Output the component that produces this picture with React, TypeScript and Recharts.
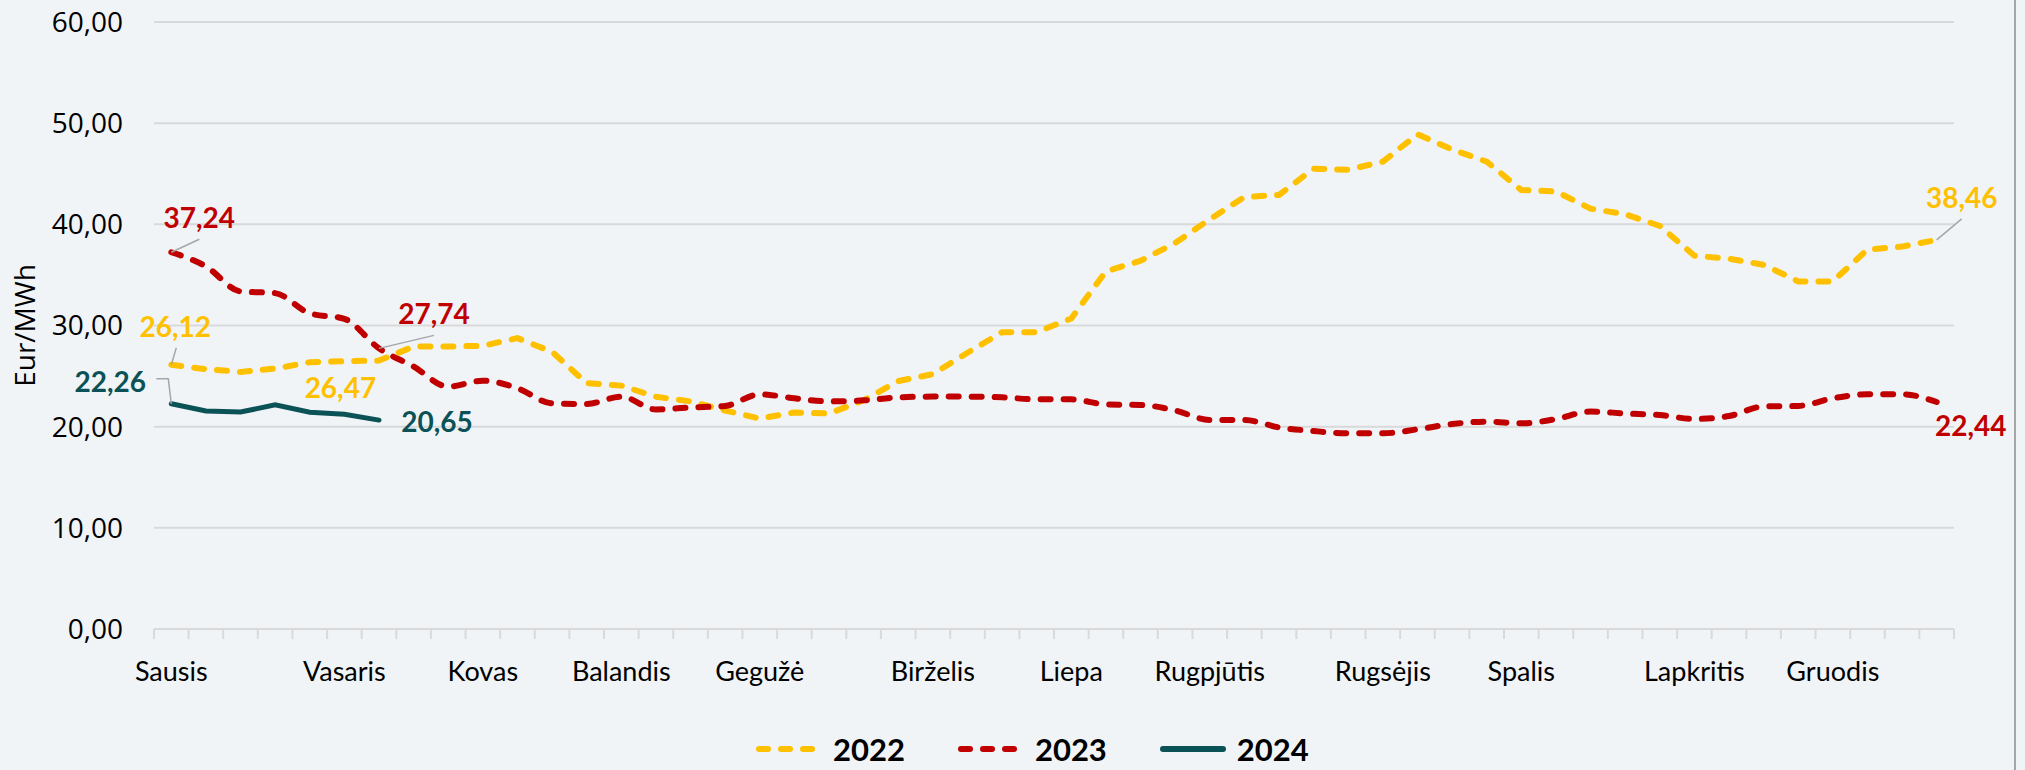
import React from "react";
import { LineChart, Line, XAxis, YAxis, CartesianGrid } from "recharts";

// weekly average prices, Eur/MWh
const y2022 = [
  26.12, 25.68, 25.41, 25.74, 26.37, 26.47, 26.53, 27.92, 27.92, 28.0,
  28.75, 27.4, 24.3, 24.06, 22.95, 22.5, 21.6, 20.8, 21.4, 21.3,
  22.6, 24.5, 25.2, 27.3, 29.34, 29.34, 30.7, 35.35, 36.4, 38.15,
  40.5, 42.7, 42.9, 45.5, 45.4, 46.2, 48.9, 47.4, 46.2, 43.4,
  43.25, 41.55, 41.0, 39.85, 36.9, 36.6, 36.0, 34.36, 34.36, 37.5,
  37.8, 38.46,
];
const y2023 = [
  37.24, 35.84, 33.37, 33.2, 31.2, 30.66, 27.74, 25.94, 23.96, 24.55,
  23.8, 22.3, 22.24, 22.97, 21.7, 21.9, 22.05, 23.2, 22.8, 22.5,
  22.6, 22.9, 22.97, 22.97, 22.9, 22.7, 22.7, 22.2, 22.15, 21.6,
  20.66, 20.66, 19.93, 19.57, 19.34, 19.34, 19.74, 20.26, 20.5, 20.33,
  20.75, 21.5, 21.3, 21.15, 20.76, 21.05, 22.0, 22.05, 22.8, 23.2,
  23.2, 22.44,
];
const y2024 = [22.26, 21.55, 21.45, 22.15, 21.42, 21.22, 20.65];

const monthNames = [
  "Sausis", "Vasaris", "Kovas", "Balandis", "Gegužė", "Birželis",
  "Liepa", "Rugpjūtis", "Rugsėjis", "Spalis", "Lapkritis", "Gruodis",
];
const monthWeeks = [0, 5, 9, 13, 17, 22, 26, 30, 35, 39, 44, 48];
const yTicks = [0, 10, 20, 30, 40, 50, 60];

const data = y2022.map((v, i) => ({
  week: i,
  y2022: v,
  y2023: y2023[i],
  y2024: y2024[i],
}));

// tick marks sit between the weeks, labels sit on the month's first week
const weekEdges = data.map((d) => d.week - 0.5).concat([data.length - 0.5]);
const xTicks = [...weekEdges, ...monthWeeks];

const YELLOW = "#FFC000";
const RED = "#C00000";
const TEAL = "#0B5257";
const GRID = "#D9D9D9";
const FONT = "Lato, 'Open Sans', sans-serif";

const fmt = (v: number) => v.toFixed(2).replace(".", ",");

type Spec = { dx: number; dy: number; leader?: number[][] };

const labels2022: Record<number, Spec> = {
  0: { dx: 4, dy: -39, leader: [[5, -17]] },
  5: { dx: -4, dy: 26 },
  51: { dx: 25, dy: -43, leader: [[25, -21]] },
};
const labels2023: Record<number, Spec> = {
  0: { dx: 28, dy: -35, leader: [[28, -13]] },
  6: { dx: 55, dy: -35, leader: [[55, -13]] },
  51: { dx: 34, dy: 23 },
};
const labels2024: Record<number, Spec> = {
  0: { dx: -61, dy: -23, leader: [[-3, -25], [-15, -25]] },
  6: { dx: 58, dy: 1 },
};

function makeLabel(color: string, specs: Record<number, Spec>) {
  return (props: any) => {
    const { x, y, index, value } = props;
    const s = specs[index];
    if (!s || value == null) return <g key={`e${index}`} />;
    const pts = [[x, y], ...(s.leader || []).map(([dx, dy]) => [x + dx, y + dy])];
    return (
      <g key={`l${index}`}>
        {s.leader && (
          <polyline
            points={pts.map((p) => p.join(",")).join(" ")}
            fill="none"
            stroke="#A6A6A6"
            strokeWidth={1.5}
          />
        )}
        <text
          x={x + s.dx}
          y={y + s.dy}
          textAnchor="middle"
          dominantBaseline="central"
          fill={color}
          fontFamily={FONT}
          fontWeight={700}
          fontSize={28}
        >
          {fmt(value)}
        </text>
      </g>
    );
  };
}

function XTick(props: any) {
  const { x, y, payload } = props;
  const v = payload.value;
  if (Number.isInteger(v)) {
    const name = monthNames[monthWeeks.indexOf(v)];
    return (
      <text
        x={x}
        y={y + 41}
        textAnchor="middle"
        dominantBaseline="central"
        fill="#000"
        fontFamily={FONT}
        fontSize={27}
      >
        {name}
      </text>
    );
  }
  return <line x1={x} x2={x} y1={y} y2={y + 10} stroke={GRID} strokeWidth={2} />;
}

function LegendItem({ color, dash, label }: { color: string; dash?: string; label: string }) {
  return (
    <div style={{ display: "flex", alignItems: "center", marginRight: 52 }}>
      <svg width={68} height={12} style={{ marginRight: 10 }}>
        <line
          x1={4}
          x2={64}
          y1={6}
          y2={6}
          stroke={color}
          strokeWidth={6}
          strokeLinecap="round"
          strokeDasharray={dash}
        />
      </svg>
      <span
        style={{ fontFamily: FONT, fontWeight: 700, fontSize: 31, lineHeight: 1, color: "#000" }}
      >
        {label}
      </span>
    </div>
  );
}

export default function App() {
  return (
    <div
      style={{
        position: "absolute",
        left: 0,
        top: 0,
        width: 2025,
        height: 770,
        background: "#F0F4F7",
        overflow: "hidden",
      }}
    >
      <LineChart
        width={2025}
        height={770}
        data={data}
        margin={{ top: 22, right: 71, left: 0, bottom: 61 }}
      >
        <CartesianGrid vertical={false} stroke={GRID} strokeWidth={2} />
        <XAxis
          dataKey="week"
          type="number"
          domain={[-0.5, 51.5]}
          ticks={xTicks}
          interval={0}
          height={80}
          tickLine={false}
          tickSize={0}
          tickMargin={0}
          axisLine={{ stroke: GRID, strokeWidth: 2 }}
          tick={<XTick />}
        />
        <YAxis
          domain={[0, 60]}
          ticks={yTicks}
          width={154}
          axisLine={false}
          tickLine={false}
          tickSize={0}
          tickMargin={31}
          tickFormatter={fmt}
          tick={{ fontFamily: "'Open Sans', sans-serif", fontSize: 28, fill: "#000" }}
          label={{
            content: ({ viewBox }: any) => (
              <text
                x={viewBox.x + 24}
                y={viewBox.y + viewBox.height / 2}
                transform={`rotate(-90 ${viewBox.x + 24} ${viewBox.y + viewBox.height / 2})`}
                textAnchor="middle"
                dominantBaseline="central"
                fontFamily="'Open Sans', sans-serif"
                fontSize={28}
                fill="#000"
              >
                Eur/MWh
              </text>
            ),
          }}
        />
        <Line
          dataKey="y2022"
          type="linear"
          stroke={YELLOW}
          strokeWidth={6}
          strokeDasharray="10 13"
          strokeLinecap="round"
          dot={false}
          activeDot={false}
          isAnimationActive={false}
          label={makeLabel(YELLOW, labels2022)}
        />
        <Line
          dataKey="y2023"
          type="monotone"
          stroke={RED}
          strokeWidth={6}
          strokeDasharray="10 13"
          strokeLinecap="round"
          dot={false}
          activeDot={false}
          isAnimationActive={false}
          label={makeLabel(RED, labels2023)}
        />
        <Line
          dataKey="y2024"
          type="linear"
          stroke={TEAL}
          strokeWidth={5}
          strokeLinecap="round"
          dot={false}
          activeDot={false}
          isAnimationActive={false}
          label={makeLabel(TEAL, labels2024)}
        />
      </LineChart>
      <div
        style={{
          position: "absolute",
          left: 755,
          top: 732,
          height: 34,
          display: "flex",
          alignItems: "center",
        }}
      >
        <LegendItem color={YELLOW} dash="9 13" label="2022" />
        <LegendItem color={RED} dash="9 13" label="2023" />
        <LegendItem color={TEAL} label="2024" />
      </div>
      <div
        style={{
          position: "absolute",
          left: 2014,
          top: 0,
          width: 2,
          height: 770,
          background: "#A6A6A6",
        }}
      />
    </div>
  );
}
